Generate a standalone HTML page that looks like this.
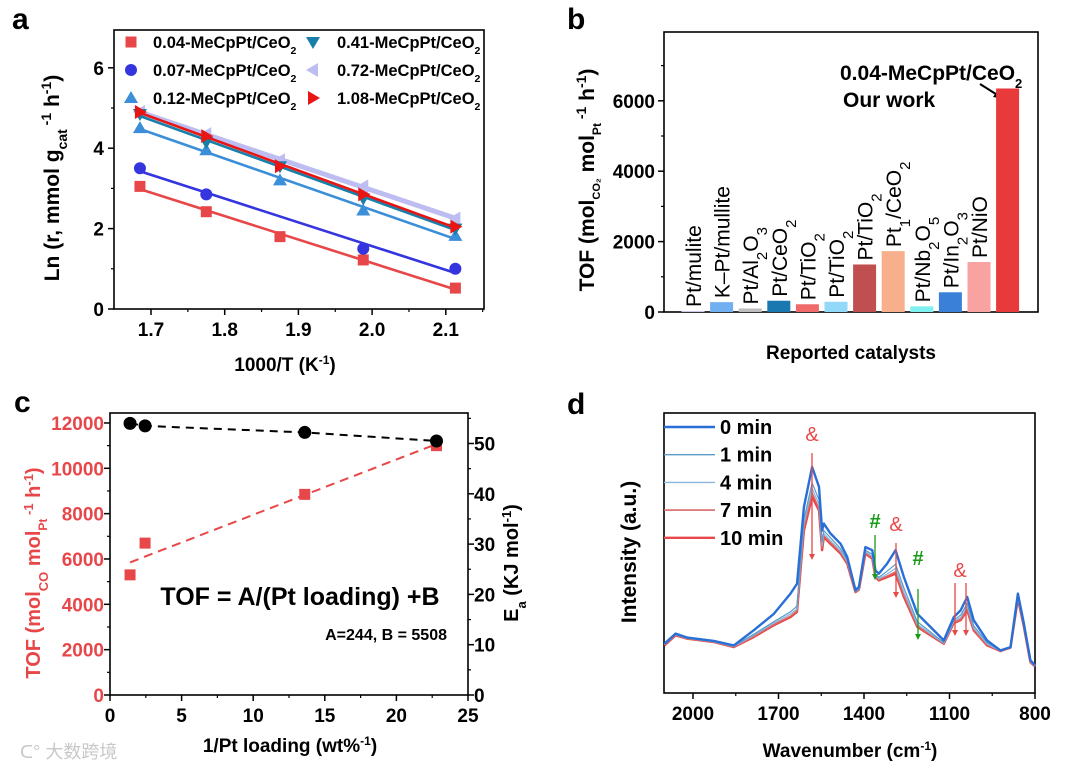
<!DOCTYPE html>
<html><head><meta charset="utf-8"><style>
html,body{margin:0;padding:0;background:#fff;}
svg{display:block;font-family:"Liberation Sans",Arial,"Noto Sans CJK SC",sans-serif;}
.b{font-weight:bold;}
</style></head><body>
<svg id="fig" width="1080" height="772" viewBox="0 0 1080 772" xmlns="http://www.w3.org/2000/svg">
<text x="12" y="29" font-size="30" class="b">a</text>
<text x="567" y="29" font-size="30" class="b">b</text>
<text x="14" y="412" font-size="30" class="b">c</text>
<text x="567" y="414" font-size="30" class="b">d</text>

<text transform="translate(59,178) rotate(-90)" text-anchor="middle" font-size="21" class="b">Ln (r, mmol g<tspan font-size="14" baseline-shift="sub">cat</tspan><tspan font-size="14" baseline-shift="super"> -1</tspan> h<tspan font-size="14" baseline-shift="super">-1</tspan>)</text>
<text x="285" y="371" text-anchor="middle" font-size="19" class="b">1000/T (K<tspan font-size="12" baseline-shift="super">-1</tspan>)</text>

<text transform="translate(594,180) rotate(-90)" text-anchor="middle" font-size="21" class="b">TOF (mol<tspan font-size="11" baseline-shift="sub">CO₂</tspan> mol<tspan font-size="12" baseline-shift="sub">Pt</tspan><tspan font-size="14" baseline-shift="super"> -1</tspan> h<tspan font-size="14" baseline-shift="super">-1</tspan>)</text>
<text x="851" y="359" text-anchor="middle" font-size="19" class="b">Reported catalysts</text>
<text x="840" y="80" font-size="21" class="b">0.04-MeCpPt/CeO<tspan font-size="13" baseline-shift="sub">2</tspan></text>
<text x="843" y="107" font-size="21" class="b">Our work</text>
<line x1="980" y1="84" x2="999" y2="96" stroke="#000" stroke-width="2"/>
<polygon points="1004,99 993,97 998,90" fill="#000"/>

<text transform="translate(40,573) rotate(-90)" text-anchor="middle" font-size="20" class="b" fill="#e8474a">TOF (mol<tspan font-size="13" baseline-shift="sub">CO</tspan> mol<tspan font-size="12" baseline-shift="sub">Pt</tspan><tspan font-size="13" baseline-shift="super"> -1</tspan> h<tspan font-size="13" baseline-shift="super">-1</tspan>)</text>
<text transform="translate(518,563) rotate(-90)" text-anchor="middle" font-size="20" class="b">E<tspan font-size="13" baseline-shift="sub">a</tspan> (KJ mol<tspan font-size="13" baseline-shift="super">-1</tspan>)</text>
<text x="290" y="752" text-anchor="middle" font-size="19" class="b">1/Pt loading (wt%<tspan font-size="12" baseline-shift="super">-1</tspan>)</text>
<text x="300" y="605" text-anchor="middle" font-size="25" class="b">TOF = A/(Pt loading) +B</text>
<text x="447" y="640" text-anchor="end" font-size="16" class="b">A=244, B = 5508</text>
<text x="20" y="758" font-size="18" fill="#c8c8c8">ᑕ° 大数跨境</text>

<text transform="translate(636,552) rotate(-90)" text-anchor="middle" font-size="21" class="b">Intensity (a.u.)</text>
<text x="850" y="757" text-anchor="middle" font-size="19" class="b">Wavenumber (cm<tspan font-size="12" baseline-shift="super">-1</tspan>)</text>
</svg>
<script>
// ---------- Panel a data ----------
const aX = [1.685, 1.775, 1.875, 1.988, 2.113];
const aNames = ["0.04-MeCpPt/CeO", "0.07-MeCpPt/CeO", "0.12-MeCpPt/CeO", "0.41-MeCpPt/CeO", "0.72-MeCpPt/CeO", "1.08-MeCpPt/CeO"];
const a004 = [3.05, 2.42, 1.80, 1.22, 0.52];
const a007 = [3.50, 2.85, null, 1.50, 1.00];
const a012 = [4.50, 3.95, 3.20, 2.45, 1.82];
const a041 = [4.85, 4.15, 3.55, 2.75, 2.00];
const a072 = [4.90, 4.35, 3.70, 3.05, 2.25];
const a108 = [4.90, 4.30, 3.55, 2.85, 2.05];
const aYTicks = [0, 2, 4, 6];
const aXTicks = [1.7, 1.8, 1.9, 2.0, 2.1];
// ---------- Panel b data ----------
const bLabels = ["Pt/mulite", "K–Pt/mullite", "Pt/Al_2O_3", "Pt/CeO_2", "Pt/TiO_2", "Pt/TiO_2", "Pt/TiO_2", "Pt_1/CeO_2", "Pt/Nb_2O_5", "Pt/In_2O_3", "Pt/NiO", ""];
const bValues = [30, 280, 100, 320, 220, 290, 1350, 1730, 160, 560, 1420, 6350];
const bYTicks = [0, 2000, 4000, 6000];
// ---------- Panel c data ----------
const cX = [1.4, 2.45, 13.6, 22.8];
const cTOF = [5300, 6700, 8850, 11000];
const cEa = [54.0, 53.5, 52.2, 50.5];
const cFitA = 244;
const cFitB = 5508;
const cLeftTicks = [0, 2000, 4000, 6000, 8000, 10000, 12000];
const cRightTicks = [0, 10, 20, 30, 40, 50];
const cXTicks = [0, 5, 10, 15, 20, 25];
// ---------- Panel d data ----------
const dWn = [2100,2061,2020,1927,1857,1787,1716,1658,1635,1611,1582,1558,1547,1541,1518,1482,1459,1430,1418,1395,1371,1360,1348,1319,1289,1260,1213,1167,1120,1085,1061,1038,1015,968,921,886,860,839,816,800];
const d0 = [17.6,21.2,19.8,18.6,17,22.4,28.3,35.5,39,66.4,80.7,73.6,58,60.5,57,53.3,48.6,36.7,37.9,52.1,51,43.8,42.6,46.2,51,41.4,28.3,23.6,18.8,27.1,29.5,34.3,26,18.8,15.2,16.4,35.5,24.8,11.7,9.9];
const d1 = [17.4,21,19.6,18.4,16.8,21,25.5,29,31,62,75,69,54,58,55.5,51.5,47.5,36.3,37.3,51,49.5,42.5,41.3,43.5,46,37.5,25.5,21.8,18,26,27.8,32,24,18,15.1,16.3,34.6,24.2,11.4,9.7];
const d4 = [17.3,20.9,19.5,18.3,16.6,20.6,25,28.2,30,60.5,73,67.5,52.5,57,54.5,50.7,47,36.2,37.1,50.5,48.8,42,40.8,42.5,44.5,36,24.6,21.2,17.8,25.5,27,31,23.2,17.5,15,16.2,34,23.9,11.2,9.6];
const d7 = [17.1,20.7,19.4,18.2,16.5,20.2,24.5,27.5,29.4,59,71.5,66,51.8,56.2,53.8,50.2,46.5,36.1,37,50,48.3,41.6,40.5,41.8,43.3,35,24,20.8,17.7,25.2,26.4,30,22.7,17.2,15,16.2,33.8,23.7,11.1,9.5];
const d10 = [17,20.6,19.4,18.2,16.4,20,24.2,27.1,29,58,70,65.2,51,55.7,53.3,49.8,46.2,36,36.9,49.8,48,41.4,40.2,41.4,42.6,34.3,23.6,20.6,17.6,25,26,29.5,22.4,17,15,16.2,33.7,23.6,11,9.5];
const dLegend = ["0 min", "1 min", "4 min", "7 min", "10 min"];
const dXTicks = [2000, 1700, 1400, 1100, 800];

const NS = "http://www.w3.org/2000/svg";
const svg = document.getElementById("fig");
function mk(p, tag, at) { const e = document.createElementNS(NS, tag); for (const k in at) e.setAttribute(k, at[k]); p.appendChild(e); return e; }
function grp(name) { const g = mk(svg, "g", {});   return g; }
function fit(xs, ys) { let n=0,sx=0,sy=0,sxx=0,sxy=0; xs.forEach((x,i)=>{ if(ys[i]==null) return; n++; sx+=x; sy+=ys[i]; sxx+=x*x; sxy+=x*ys[i]; }); const m=(n*sxy-sx*sy)/(n*sxx-sx*sx); return [m,(sy-m*sx)/n]; }
function marker(g, type, x, y, c) {
  let e;
  if (type === "sq") e = mk(g, "rect", {x: x-5.5, y: y-5.5, width: 11, height: 11, fill: c});
  else if (type === "ci") e = mk(g, "circle", {cx: x, cy: y, r: 6, fill: c});
  else if (type === "up") e = mk(g, "polygon", {points: `${x},${y-7} ${x-7},${y+5} ${x+7},${y+5}`, fill: c});
  else if (type === "dn") e = mk(g, "polygon", {points: `${x},${y+7} ${x-7},${y-5} ${x+7},${y-5}`, fill: c});
  else if (type === "lf") e = mk(g, "polygon", {points: `${x-7},${y} ${x+5},${y-7} ${x+5},${y+7}`, fill: c});
  else e = mk(g, "polygon", {points: `${x+7},${y} ${x-5},${y-7} ${x-5},${y+7}`, fill: c});
  return e;
}

// ================= Panel a =================
(function(){
  const xa = v => 151 + (v - 1.7) * 737;
  const ya = v => 309 - v * 40.2;
  const g = grp("panel-a-chart");
  const box = mk(g, "rect", {x: 114, y: 30, width: 370, height: 279, fill: "none", stroke: "#000", "stroke-width": 1.6});
  
  
  aYTicks.forEach(t => {
    const l = mk(g, "line", {x1: 108, x2: 114, y1: ya(t), y2: ya(t), stroke: "#000", "stroke-width": 1.5});
    
    
    const tx = mk(g, "text", {x: 104, y: ya(t) + 7, "text-anchor": "end", "font-size": 19, "font-weight": "bold"});
    tx.textContent = t;
    
    
    if (t < 6) { const m = mk(g, "line", {x1: 111, x2: 114, y1: ya(t+1), y2: ya(t+1), stroke: "#000", "stroke-width": 1.2});   }
  });
  aXTicks.forEach(t => {
    const l = mk(g, "line", {x1: xa(t), x2: xa(t), y1: 309, y2: 315, stroke: "#000", "stroke-width": 1.5});
    
    
    const tx = mk(g, "text", {x: xa(t), y: 336, "text-anchor": "middle", "font-size": 19, "font-weight": "bold"});
    tx.textContent = t.toFixed(1);
    
    
    const m = mk(g, "line", {x1: xa(t+0.05), x2: xa(t+0.05), y1: 309, y2: 312, stroke: "#000", "stroke-width": 1.2});
    
    
  });
  const series = [[a004,"#e8474a","sq"],[a007,"#3535e0","ci"],[a012,"#3b8fd8","up"],[a041,"#177fa8","dn"],[a072,"#bdbdf2","lf"],[a108,"#e81515","rt"]];
  const order = [4,0,1,2,3,5];
  order.forEach(si => {
    const [vals, c, type] = series[si];
    const sg = mk(g, "g", {});
    
    
    const [m, b] = fit(aX, vals);
    const ln = mk(sg, "line", {x1: xa(aX[0]), y1: ya(m*aX[0]+b), x2: xa(aX[4]), y2: ya(m*aX[4]+b), stroke: c, "stroke-width": si===4 ? 5 : 2.6});
    
    
    vals.forEach((v, i) => {
      if (v == null) return;
      const mkr = marker(sg, type, xa(aX[i]), ya(v), c);
      
      
    });
    const col = si < 3 ? 0 : 1, row = si % 3;
    const lx = col ? 313 : 131, ly = 42 + row * 28;
    const lm = marker(sg, type, lx, ly, c);
    
    
    const lt = mk(sg, "text", {x: col ? 337 : 153, y: ly + 6, "font-size": 16.5, "font-weight": "bold"});
    lt.textContent = aNames[si];
    const sub = mk(lt, "tspan", {"font-size": 10.5, "baseline-shift": "sub"});
    sub.textContent = "2";
    
    
  });
})();

// ================= Panel b =================
(function(){
  const yb = v => 312 - v * 0.0352;
  const xb = i => 693 + i * 28.6;
  const colors = ["#c8c8f2","#70b0f2","#bdbdbd","#1a78b0","#f06a6a","#92d8f8","#c05050","#f8b08c","#7ef0f0","#3a80d8","#f8a2a2","#e83a3a"];
  const g = grp("panel-b-chart");
  const box = mk(g, "rect", {x: 664, y: 32, width: 374, height: 280, fill: "none", stroke: "#000", "stroke-width": 1.6});
  
  
  bYTicks.forEach(t => {
    const l = mk(g, "line", {x1: 658, x2: 664, y1: yb(t), y2: yb(t), stroke: "#000", "stroke-width": 1.5});
    
    
    const tx = mk(g, "text", {x: 655, y: yb(t) + 7, "text-anchor": "end", "font-size": 19, "font-weight": "bold"});
    tx.textContent = t;
    
    
    const m = mk(g, "line", {x1: 661, x2: 664, y1: yb(t+1000), y2: yb(t+1000), stroke: "#000", "stroke-width": 1.2});
    
    
  });
  bValues.forEach((v, i) => {
    const r = mk(g, "rect", {x: xb(i) - 11.5, y: yb(v), width: 23, height: 312 - yb(v), fill: colors[i]});
    
    
    if (!bLabels[i]) return;
    const bx = xb(i) + 8, by = yb(v) - 4;
    const t = mk(g, "text", {transform: `translate(${bx},${by}) rotate(-90)`, "font-size": 21});
    const parts = bLabels[i].split(/(_\d)/);
    parts.forEach(p => {
      if (!p) return;
      const s = mk(t, "tspan", p[0] === "_" ? {"font-size": 15, "baseline-shift": "sub"} : {});
      s.textContent = p[0] === "_" ? p.slice(1) : p;
    });
    
    
  });
})();

// ================= Panel c =================
(function(){
  const xc = v => 110 + v * 14.32;
  const yl = v => 695 - v * 0.02267;
  const yr = v => 695 - v * 5.03;
  const g = grp("panel-c-chart");
  const box = mk(g, "rect", {x: 110, y: 413, width: 358, height: 282, fill: "none", stroke: "#000", "stroke-width": 1.6});
  
  
  cLeftTicks.forEach(t => {
    const l = mk(g, "line", {x1: 104, x2: 110, y1: yl(t), y2: yl(t), stroke: "#000", "stroke-width": 1.5});
    
    
    const tx = mk(g, "text", {x: 104, y: yl(t) + 7, "text-anchor": "end", "font-size": 19, "font-weight": "bold", fill: "#e8474a"});
    tx.textContent = t;
    
    
    if (t < 12000) { const m = mk(g, "line", {x1: 107, x2: 110, y1: yl(t+1000), y2: yl(t+1000), stroke: "#000", "stroke-width": 1.2});   }
  });
  cRightTicks.forEach(t => {
    const l = mk(g, "line", {x1: 468, x2: 474, y1: yr(t), y2: yr(t), stroke: "#000", "stroke-width": 1.5});
    
    
    const tx = mk(g, "text", {x: 474, y: yr(t) + 7, "font-size": 19, "font-weight": "bold"});
    tx.textContent = t;
    
    
    const m = mk(g, "line", {x1: 468, x2: 471, y1: yr(t+5), y2: yr(t+5), stroke: "#000", "stroke-width": 1.2});
    
    
  });
  cXTicks.forEach(t => {
    const l = mk(g, "line", {x1: xc(t), x2: xc(t), y1: 695, y2: 701, stroke: "#000", "stroke-width": 1.5});
    
    
    const tx = mk(g, "text", {x: xc(t), y: 722, "text-anchor": "middle", "font-size": 19, "font-weight": "bold"});
    tx.textContent = t;
    
    
    if (t < 25) { const m = mk(g, "line", {x1: xc(t+2.5), x2: xc(t+2.5), y1: 695, y2: 698, stroke: "#000", "stroke-width": 1.2});   }
  });
  const x0 = cX[0], x1 = cX[cX.length-1];
  const fl = mk(g, "line", {x1: xc(x0), y1: yl(cFitA*x0+cFitB), x2: xc(x1), y2: yl(cFitA*x1+cFitB), stroke: "#e8474a", "stroke-width": 2, "stroke-dasharray": "9,6"});
  
  
  const ep = mk(g, "polyline", {points: cX.map((x,i) => `${xc(x)},${yr(cEa[i])}`).join(" "), fill: "none", stroke: "#000", "stroke-width": 2, "stroke-dasharray": "8,6"});
  
  
  cX.forEach((x, i) => {
    const s = mk(g, "rect", {x: xc(x)-5.5, y: yl(cTOF[i])-5.5, width: 11, height: 11, fill: "#e8474a"});
    
    
    const c = mk(g, "circle", {cx: xc(x), cy: yr(cEa[i]), r: 6.5, fill: "#000"});
    
    
  });
})();

// ================= Panel d =================
(function(){
  const xd = w => 693 + (2000 - w) * 0.285;
  const yd = v => 693 - v * 2.8;
  const g = grp("panel-d-chart");
  const box = mk(g, "rect", {x: 664, y: 413, width: 371, height: 280, fill: "none", stroke: "#000", "stroke-width": 1.6});
  
  
  dXTicks.forEach(t => {
    const l = mk(g, "line", {x1: xd(t), x2: xd(t), y1: 693, y2: 699, stroke: "#000", "stroke-width": 1.5});
    
    
    const tx = mk(g, "text", {x: xd(t), y: 720, "text-anchor": "middle", "font-size": 19, "font-weight": "bold"});
    tx.textContent = t;
    
    
    if (t > 800) { const m = mk(g, "line", {x1: xd(t-150), x2: xd(t-150), y1: 693, y2: 696, stroke: "#000", "stroke-width": 1.2});   }
  });
  const ser = [[d10,"#e84848",2.4],[d7,"#d86a6a",1.4],[d4,"#8ab8e0",1.2],[d1,"#5a9ac8",1.2],[d0,"#2a6fd6",2.4]];
  ser.forEach(([vals, c, w], k) => {
    const p = mk(g, "polyline", {points: dWn.map((x,i) => `${xd(x).toFixed(1)},${yd(vals[i]).toFixed(1)}`).join(" "), fill: "none", stroke: c, "stroke-width": w, "stroke-linejoin": "round"});
    
    
  });
  const lc = [["#2a6fd6",2.4],["#5a9ac8",1.4],["#8ab8e0",1.4],["#d86a6a",1.6],["#e84848",2.4]];
  dLegend.forEach((lab, i) => {
    const y = 427 + i * 27.7;
    const l = mk(g, "line", {x1: 664, x2: 715, y1: y, y2: y, stroke: lc[i][0], "stroke-width": lc[i][1]});
    
    
    const t = mk(g, "text", {x: 720, y: y + 7, "font-size": 20, "font-weight": "bold"});
    t.textContent = lab;
    
    
  });
  const ann = [["&","#e84848",812,441,453,560],["#","#1a9a1a",875,528,535,580],["&","#e84848",896,531,543,598],["#","#1a9a1a",918,565,589,640]];
  ann.forEach(([s,c,x,ty,a1,a2]) => {
    const t = mk(g, "text", {x: x, y: ty, "text-anchor": "middle", "font-size": 20, fill: c, "font-weight": s==="#" ? "bold" : "normal"});
    t.textContent = s;
    
    
    const l = mk(g, "line", {x1: x, x2: x, y1: a1, y2: a2 - 5, stroke: c, "stroke-width": 1.3});
    
    
    const h = mk(g, "polygon", {points: `${x-3},${a2-6} ${x+3},${a2-6} ${x},${a2}`, fill: c});
    
    
  });
  const t3 = mk(g, "text", {x: 960, y: 577, "text-anchor": "middle", "font-size": 20, fill: "#e84848"});
  t3.textContent = "&";
  
  
  [955, 966].forEach(x => {
    const l = mk(g, "line", {x1: x, x2: x, y1: 583, y2: 631, stroke: "#e84848", "stroke-width": 1.3});
    
    
    const h = mk(g, "polygon", {points: `${x-3},${630} ${x+3},${630} ${x},${636}`, fill: "#e84848"});
    
    
  });
})();
</script>
</body></html>
